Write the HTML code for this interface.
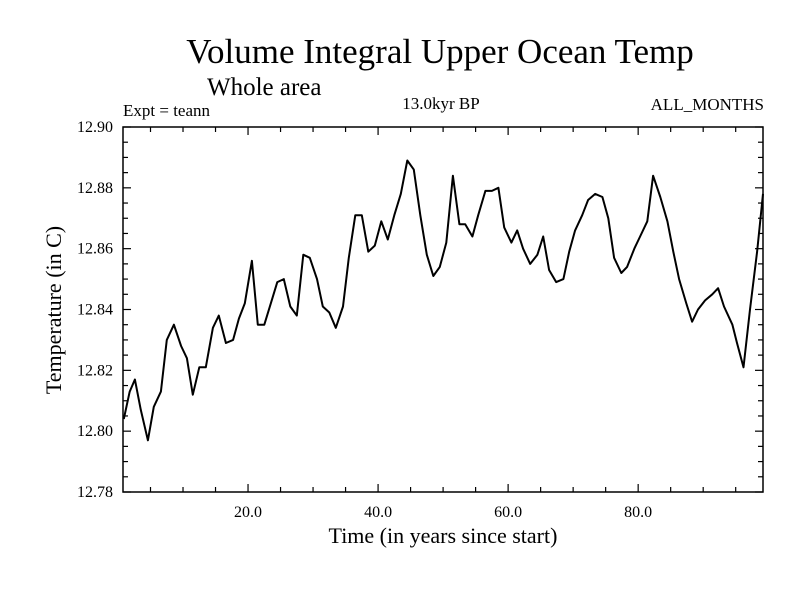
<!DOCTYPE html>
<html><head><meta charset="utf-8"><style>
body{margin:0;background:#fff}
svg{display:block}
text{font-family:"Liberation Serif",serif;fill:#000}
</style></head><body>
<svg id="chart" width="800" height="600">
<text x="440" y="63" font-size="35" text-anchor="middle">Volume Integral Upper Ocean Temp</text>
<text x="207" y="95" font-size="25">Whole area</text>
<text x="123" y="116" font-size="17">Expt = teann</text>
<text x="441" y="109" font-size="17" text-anchor="middle">13.0kyr BP</text>
<text x="764" y="110" font-size="17" text-anchor="end">ALL_MONTHS</text>
<text x="443" y="543" font-size="22" text-anchor="middle">Time (in years since start)</text>
<text transform="translate(61,310) rotate(-90)" font-size="22" text-anchor="middle">Temperature (in C)</text>
<rect x="123" y="127" width="640" height="365" fill="none" stroke="#000" stroke-width="1.5"/>
<g id="ticks"></g>
<path id="line" fill="none" stroke="#000" stroke-width="2" stroke-linejoin="round"/>
</svg>
<script>
const years=[0.9,1.8,2.6,3.5,4.6,5.5,6.6,7.5,8.6,9.7,10.6,11.5,12.5,13.5,14.6,15.5,16.6,17.7,18.6,19.5,20.6,21.5,22.5,23.5,24.5,25.5,26.5,27.5,28.5,29.5,30.6,31.5,32.5,33.5,
34.6,35.5,36.5,37.5,38.5,39.5,40.5,41.5,42.5,43.5,44.5,45.5,46.5,47.5,48.5,49.5,50.5,51.5,52.5,53.4,54.5,55.4,56.5,57.5,58.5,59.4,60.5,61.4,62.3,63.4,64.5,65.4,
66.3,67.4,68.5,69.4,70.3,71.4,72.3,73.4,74.5,75.4,76.3,77.4,78.3,79.4,80.3,81.4,82.3,83.4,84.5,85.4,86.3,87.4,88.3,89.2,90.3,91.4,92.3,93.2,94.5,95.2,96.2,97.2,98.3,99.2];
const temps=[12.804,12.813,12.817,12.807,12.797,12.808,12.813,12.830,12.835,12.828,12.824,12.812,12.821,12.821,12.834,12.838,12.829,12.830,12.837,12.842,12.856,12.835,12.835,12.842,12.849,12.850,12.841,12.838,12.858,12.857,12.850,12.841,12.839,12.834,
12.841,12.857,12.871,12.871,12.859,12.861,12.869,12.863,12.871,12.878,12.889,12.886,12.871,12.858,12.851,12.854,12.862,12.884,12.868,12.868,12.864,12.871,12.879,12.879,12.880,12.867,12.862,12.866,12.860,12.855,12.858,12.864,
12.853,12.849,12.850,12.859,12.866,12.871,12.876,12.878,12.877,12.870,12.857,12.852,12.854,12.860,12.864,12.869,12.884,12.877,12.869,12.859,12.850,12.842,12.836,12.840,12.843,12.845,12.847,12.841,12.835,12.829,12.821,12.840,12.859,12.878];
const xTickLabels=["20.0","40.0","60.0","80.0"];
const xTickValues=[20,40,60,80];
const yTickLabels=["12.78","12.80","12.82","12.84","12.86","12.88","12.90"];
const yTickValues=[12.78,12.80,12.82,12.84,12.86,12.88,12.90];

const X0=123,X1=763,Y0=492,Y1=127,XMIN=0.77,XMAX=99.2,YMIN=12.78,YMAX=12.90;
const sx=v=>X0+(v-XMIN)/(XMAX-XMIN)*(X1-X0);
const sy=v=>Y0-(v-YMIN)/(YMAX-YMIN)*(Y0-Y1);
const NS='http://www.w3.org/2000/svg';
const g=document.getElementById('ticks');
function ln(x1,y1,x2,y2,name){const l=document.createElementNS(NS,'line');
l.setAttribute('x1',x1);l.setAttribute('y1',y1);l.setAttribute('x2',x2);l.setAttribute('y2',y2);
l.setAttribute('stroke','#000');l.setAttribute('stroke-width','1.2');


g.appendChild(l);}
function tx(x,y,s,anchor,name){const t=document.createElementNS(NS,'text');
t.setAttribute('x',x);t.setAttribute('y',y);t.setAttribute('font-size','16');t.setAttribute('text-anchor',anchor);t.textContent=s;


g.appendChild(t);}
for(let v=5;v<XMAX;v+=5){const x=sx(v);const major=v%20===0;const L=major?8:5;
ln(x,Y0,x,Y0-L,'x-tick');ln(x,Y1,x,Y1+L,'x-tick-top');}
xTickValues.forEach((v,i)=>tx(sx(v),Y0+25,xTickLabels[i],'middle','x-tick-label'));
for(let k=0;k<=24;k++){const v=YMIN+k*0.005;const y=sy(v);const L=k%4===0?8:5;
ln(X0,y,X0+L,y,'y-tick');ln(X1,y,X1-L,y,'y-tick-right');}
yTickValues.forEach((v,i)=>tx(113,sy(v)+5,yTickLabels[i],'end','y-tick-label'));
document.getElementById('line').setAttribute('d',years.map((y,i)=>(i?'L':'M')+sx(y).toFixed(1)+','+sy(temps[i]).toFixed(1)).join(''));
</script>
</body></html>
